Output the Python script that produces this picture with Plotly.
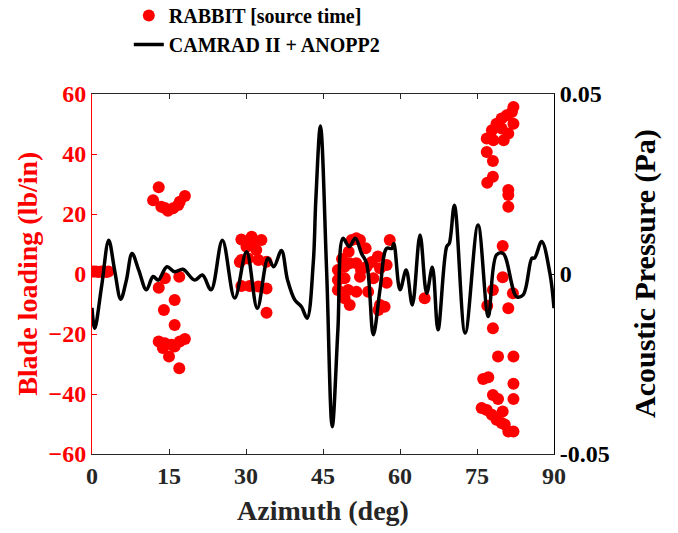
import plotly.graph_objects as go

# RABBIT blade loading [source time]  (azimuth deg, lb/in)
rabbit_az = [0.3, 0.8, 1.3, 1.8, 2.3, 2.8, 3.2,
             13.0, 11.9, 13.5, 14.8, 15.8, 16.8, 18.1, 17.1, 14.2,
             14.2, 17.0, 13.0, 16.1, 14.0, 16.1, 13.0, 14.2, 15.5, 17.1, 18.1, 13.8, 15.0, 17.0, 16.1,
             29.1, 31.1, 33.0, 30.1, 32.0, 31.1, 29.1, 30.4, 32.4, 34.0, 29.1, 30.7, 32.4, 34.0, 34.0, 28.8,
             51.5, 50.6, 52.2, 58.0, 53.3, 50.0, 55.7, 50.2, 51.5, 47.9, 49.2, 53.5, 56.1, 57.4,
             47.9, 49.2, 52.2, 54.8, 57.4, 47.9, 49.9, 51.5, 53.8, 49.2, 50.2, 56.1, 57.0, 55.8,
             64.8, 52.4, 54.5, 48.7,
             82.1, 81.8, 80.8, 79.8, 78.8, 82.1, 77.9, 79.8, 81.1, 76.9, 78.2, 80.2, 76.9, 78.1, 78.1,
             77.0, 81.1, 81.1, 81.1,
             80.0, 80.0, 78.1, 82.0, 77.0, 81.1, 78.1, 79.1, 82.1,
             76.2, 77.2, 82.1, 78.1, 79.1, 82.1, 75.9, 76.9, 77.9, 80.0, 78.8, 79.8, 80.4, 81.1, 82.1]
rabbit_load = [0.8, 0.8, 0.7, 0.8, 0.8, 0.7, 0.8,
               28.9, 24.6, 22.4, 21.1, 21.9, 23.0, 26.0, 24.1, 22.0,
               -1.4, -0.9, -4.6, -8.7, -12.0, -17.0, -22.5, -23.1, -23.6, -22.5, -21.7, -24.7, -27.5, -31.4, -24.2,
               11.5, 12.4, 11.3, 9.1, 8.0, 10.3, 4.7, 5.2, 4.7, 4.1, -4.0, -4.0, -4.2, -4.8, -12.9, 4.0,
               11.9, 11.3, 11.3, 11.3, 8.6, 7.4, 5.8, 3.6, 3.6, 1.3, 2.4, 2.4, 1.9, 3.0,
               -2.0, -1.4, -0.9, -1.4, -2.9, -5.3, -5.3, -5.9, -5.9, -8.1, -10.3, -10.3, -10.9, -12.0,
               -8.1, 1.3, 4.0, 5.0,
               55.7, 54.0, 52.9, 51.8, 50.1, 50.1, 47.9, 48.5, 46.8, 45.2, 44.6, 44.6, 40.7, 37.7, 32.4,
               30.4, 28.0, 26.3, 22.4,
               9.3, -1.1, -5.3, -6.4, -10.6, -11.4, -18.1, -27.5, -27.5,
               -35.0, -34.4, -36.6, -40.3, -41.7, -41.7, -44.7, -45.3, -46.9, -45.8, -48.6, -49.7, -50.2, -52.5, -52.5]

# CAMRAD II + ANOPP2 acoustic pressure (azimuth deg, Pa)
acoustic_az = [0.0, 0.53, 1.9, 3.26, 4.4, 5.6, 6.7, 7.8, 9.1, 10.6, 11.9, 12.9, 14.6, 16.1, 17.7,
               20.0, 21.5, 23.2, 25.4, 27.8, 30.1, 32.2, 34.3, 35.4, 36.9, 38.1, 39.5, 40.8, 41.9,
               43.1, 43.6, 44.5, 45.7, 46.8, 47.9, 48.9, 50.1, 51.3, 52.5, 53.5, 54.8, 56.1, 57.4,
               58.4, 58.8, 60.0, 61.2, 62.4, 63.9, 65.2, 66.3, 67.4, 69.1, 69.6, 70.6, 72.7, 75.2,
               77.2, 78.8, 80.1, 82.7, 84.0, 85.7, 86.2, 87.6, 89.2, 90.0]
acoustic_p = [-0.0094, -0.0151, -0.0031, 0.0094, 0.0011, -0.0070, -0.0017, 0.0057, 0.0011, -0.0044,
              -0.0007, -0.0017, 0.0020, 0.0006, 0.0013,
              -0.0017, -0.0003, -0.0044, 0.0094, -0.0067, 0.0062, -0.0095, 0.0044, 0.0020, 0.0065,
              -0.0017, -0.0072, -0.0091, -0.0123,
              0.0030, 0.0205, 0.0411, 0.0011, -0.0424, -0.0155, 0.0099, 0.0076, 0.0099, 0.0057,
              0.0030, -0.0169, -0.0044, 0.0071,
              0.0071, 0.0085, -0.0044, 0.0011, -0.0086, 0.0108, -0.0054, 0.0019, -0.0155, 0.0076,
              0.0085, 0.0191, -0.0164, 0.0136,
              -0.0118, 0.0053, 0.0057, -0.0063, -0.0058, 0.0044, 0.0044, 0.0090, 0.0002, -0.0095]

x_ticks = [0, 15, 30, 45, 60, 75, 90]
y_ticks = [-60, -40, -20, 0, 20, 40, 60]
y2_ticks = [-0.05, 0, 0.05]
y2_labels = ["-0.05", "0", "0.05"]

FONT = "Liberation Serif, Times New Roman, serif"
AXC = "#262626"

fig = go.Figure()
fig.add_trace(go.Scatter(
    x=rabbit_az, y=rabbit_load, mode="markers", name="RABBIT [source time]",
    marker=dict(color="#ff0000", size=12, line=dict(width=0)), yaxis="y"))
fig.add_trace(go.Scatter(
    x=acoustic_az, y=acoustic_p, mode="lines", name="CAMRAD II + ANOPP2",
    line=dict(color="black", width=3.5, shape="spline", smoothing=1.0), yaxis="y2"))

fig.update_layout(
    width=678, height=533,
    margin=dict(l=92, r=124, t=94, b=79, autoexpand=False),
    paper_bgcolor="white", plot_bgcolor="white",
    font=dict(family=FONT, color="black", weight="bold"),
    showlegend=True,
    legend=dict(xref="container", yref="paper", x=0.19, y=1.272, xanchor="left", yanchor="top",
                font=dict(family=FONT, size=20, color="black", weight="bold"),
                bgcolor="rgba(0,0,0,0)", tracegroupgap=0, itemwidth=30),
    xaxis=dict(range=[0, 90], tickvals=x_ticks, ticks="inside", ticklen=5, tickcolor=AXC,
               showline=True, linecolor=AXC, linewidth=1, mirror="ticks", showgrid=False,
               zeroline=False, tickfont=dict(family=FONT, size=24, color=AXC, weight="bold"),
               title=dict(text="Azimuth (deg)", font=dict(family=FONT, size=28, color=AXC, weight="bold"),
                          standoff=12)),
    yaxis=dict(range=[-60, 60], tickvals=y_ticks, ticks="inside", ticklen=5, tickcolor="#ff0000",
               showline=True, linecolor="#ff0000", linewidth=1, showgrid=False, zeroline=False,
               tickfont=dict(family=FONT, size=24, color="#ff0000", weight="bold")),
    yaxis2=dict(range=[-0.05, 0.05], tickvals=y2_ticks, ticktext=y2_labels, overlaying="y", side="right",
                ticks="inside", ticklen=5, tickcolor="black", showline=True, linecolor="black", linewidth=1,
                showgrid=False, zeroline=False,
                tickfont=dict(family=FONT, size=24, color="black", weight="bold")),
    annotations=[
        dict(text="Blade loading (lb/in)", xref="paper", yref="paper", x=-0.141, y=0.5,
             xanchor="center", yanchor="middle", textangle=-90, showarrow=False,
             font=dict(family=FONT, size=28, color="#ff0000", weight="bold")),
        dict(text="Acoustic Pressure (Pa)", xref="paper", yref="paper", x=1.197, y=0.5,
             xanchor="center", yanchor="middle", textangle=-90, showarrow=False,
             font=dict(family=FONT, size=30, color="black", weight="bold")),
    ],
)

fig.write_html("out.html")
